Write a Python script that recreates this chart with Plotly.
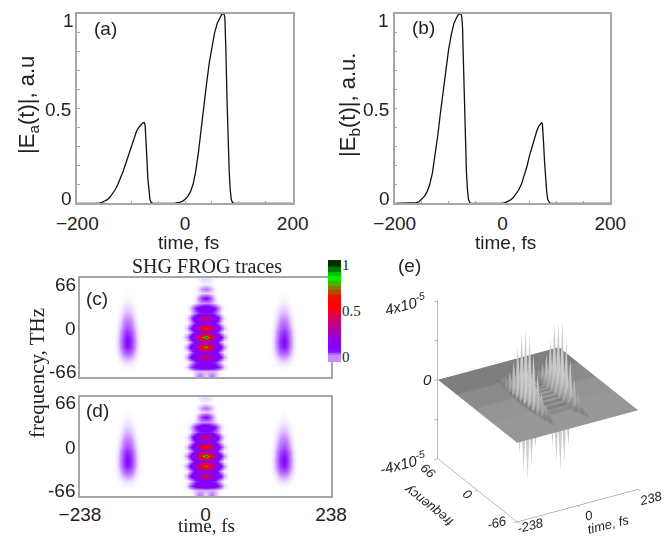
import plotly.graph_objects as go

W, H = 668, 536

# ---------- panels (a), (b): pulse envelopes ----------
t_a = [-200,-165,-160,-155,-150,-145,-140,-135,-130,-125,-120,-115,-110,-105,-100,-95,-90,-86,-82,-79,-77,-75.5,-74,-73,-71,-69,-67,-65,-63,-60,
       -20,-15,-10,-5,0,5,10,15,20,25,30,35,40,45,50,55,60,64,68,71,72.5,74,75,76,78,80,82,84,86,88,90,200]
e_a = [0,0,0.001,0.004,0.01,0.018,0.03,0.047,0.07,0.098,0.13,0.168,0.21,0.255,0.30,0.345,0.38,0.40,0.415,0.422,0.425,0.425,0.41,0.37,0.25,0.13,0.06,0.02,0.005,0,
       0,0.002,0.005,0.01,0.02,0.035,0.06,0.10,0.17,0.27,0.40,0.52,0.63,0.74,0.83,0.90,0.95,0.975,0.995,1,1,0.98,0.92,0.80,0.55,0.33,0.17,0.07,0.02,0.005,0,0]
t_b = [-200,-170,-165,-160,-155,-150,-145,-140,-135,-130,-125,-120,-115,-110,-105,-100,-95,-90,-86,-82,-79,-77,-75.5,-74,-73,-71,-69,-67,-65,-63,-60,
       0,5,10,15,20,25,30,35,40,45,50,55,60,64,68,71,72.5,74,75,76,78,80,82,84,86,88,200]
e_b = [0,0,0.001,0.003,0.008,0.02,0.036,0.06,0.10,0.16,0.25,0.36,0.48,0.60,0.71,0.81,0.89,0.95,0.975,0.995,1,1,0.98,0.92,0.80,0.55,0.33,0.17,0.07,0.02,0,
       0,0.004,0.01,0.018,0.03,0.047,0.07,0.10,0.14,0.19,0.25,0.30,0.35,0.385,0.41,0.422,0.425,0.42,0.39,0.33,0.22,0.12,0.06,0.02,0.005,0,0]

# ---------- panels (c), (d): SHG FROG traces, read by eye ----------
frog_freq = [71.5,65,58.5,52,45.5,39,32.5,26,19.5,13,6.5,0,-6.5,-13,-19.5,-26,-32.5,-39,-45.5,-52,-58.5,-65,-71.5]
centre_offsets = [0,6,12,18,24,30,36,42,48]
centre_c = [
 [0,0,0,0,0,0,0,0,0],
 [.012,.01,.005,0,0,0,0,0,0],
 [.004,.003,.001,0,0,0,0,0,0],
 [.04,.03,.015,.003,0,0,0,0,0],
 [.012,.01,.006,.002,0,0,0,0,0],
 [.09,.07,.035,.01,.001,0,0,0,0],
 [.03,.03,.022,.01,.003,0,0,0,0],
 [.13,.12,.10,.08,.04,.012,.002,0,0],
 [.08,.08,.07,.05,.025,.006,0,0,0],
 [.38,.32,.20,.12,.09,.035,.008,0,0],
 [.12,.115,.10,.08,.05,.015,.002,0,0],
 [.72,.58,.36,.19,.11,.065,.018,.002,0],
 [.14,.13,.12,.09,.06,.02,.004,0,0],
 [1,.72,.48,.28,.14,.09,.03,.005,0],
 [.16,.15,.13,.10,.07,.025,.004,0,0],
 [.85,.62,.43,.24,.13,.09,.03,.004,0],
 [.14,.13,.11,.09,.07,.025,.004,0,0],
 [.42,.35,.24,.14,.11,.08,.025,.003,0],
 [.09,.09,.08,.07,.04,.012,.002,0,0],
 [.13,.12,.11,.10,.08,.05,.012,.002,0],
 [.02,.02,.02,.018,.008,.002,0,0,0],
 [.01,.03,.04,.02,.005,0,0,0,0],
 [0,0,0,0,0,0,0,0,0],
]
centre_d = [
 [0,0,0,0,0,0,0,0,0],
 [.012,.01,.005,0,0,0,0,0,0],
 [.004,.003,.001,0,0,0,0,0,0],
 [.04,.03,.015,.003,0,0,0,0,0],
 [.012,.01,.006,.002,0,0,0,0,0],
 [.09,.07,.035,.01,.001,0,0,0,0],
 [.03,.03,.022,.01,.003,0,0,0,0],
 [.14,.13,.10,.08,.04,.012,.002,0,0],
 [.08,.08,.07,.05,.025,.006,0,0,0],
 [.40,.33,.20,.12,.09,.035,.008,0,0],
 [.12,.115,.10,.08,.05,.015,.002,0,0],
 [.68,.56,.36,.19,.11,.065,.018,.002,0],
 [.14,.13,.12,.09,.06,.02,.004,0,0],
 [1,.73,.50,.28,.14,.09,.03,.005,0],
 [.16,.15,.13,.10,.07,.025,.004,0,0],
 [.80,.60,.42,.24,.13,.09,.03,.004,0],
 [.14,.13,.11,.09,.07,.025,.004,0,0],
 [.45,.36,.25,.14,.11,.08,.025,.003,0],
 [.09,.09,.08,.07,.04,.012,.002,0,0],
 [.13,.12,.11,.10,.08,.05,.012,.002,0],
 [.02,.02,.02,.018,.008,.002,0,0,0],
 [.01,.03,.04,.02,.005,0,0,0,0],
 [0,0,0,0,0,0,0,0,0],
]
side_centre = 148
side_offsets = [0,6,12,18,24,32]
side_lobe = [
 [0,0,0,0,0,0],[0,0,0,0,0,0],[0,0,0,0,0,0],[0,0,0,0,0,0],[.001,0,0,0,0,0],
 [.003,.002,0,0,0,0],[.006,.004,.001,0,0,0],[.012,.009,.004,.001,0,0],[.02,.015,.007,.002,0,0],
 [.03,.024,.011,.003,0,0],[.042,.034,.016,.005,0,0],[.055,.043,.022,.007,.001,0],[.068,.055,.03,.009,.002,0],
 [.08,.064,.034,.012,.002,0],[.085,.068,.038,.013,.002,0],[.078,.063,.034,.012,.002,0],[.055,.045,.024,.008,.002,0],
 [.028,.023,.012,.004,0,0],[.01,.008,.004,.001,0,0],[.002,.002,0,0,0,0],[0,0,0,0,0,0],[0,0,0,0,0,0],[0,0,0,0,0,0],
]
frog_scale = [[0,"#ffffff"],[.008,"#efe2ff"],[.03,"#c88cff"],[.085,"#8000ff"],[.2,"#9600d8"],[.3,"#b000a0"],
              [.42,"#d80058"],[.55,"#ff0000"],[.65,"#f01000"],[.75,"#808000"],[.85,"#00f000"],[.9,"#00c000"],[1,"#003000"]]
cbar_levels = [.03,.03,.05,.08,.1,.15,.2,.25,.3,.35,.4,.45,.5,.55,.6,.65,.7,.75,.8,.85,.9,.95,1,1]
cbar_pos = [-.06,0,.03,.06,.1,.15,.2,.25,.3,.35,.4,.45,.5,.55,.6,.65,.7,.75,.8,.85,.9,.95,1,1.05]

# ---------- panel (e): difference surface, read by eye (units of 1e-5) ----------
diff_freq = [-66+3.3*i for i in range(41)]
ridge_times = [-238,-100,-86,-77,-71,-65,-56,-42,42,56,65,71,77,86,100,238]
L_core = [0,0,.05,-.05,.15,-.1,.35,-.2,.7,-.5,1.2,-1,1.9,-1.9,2.8,-2.9,3.6,-3.9,3.8,-3.6,3.3,-2.9,2.5,-2,1.6,-1.1,.9,-.6,.5,-.3,.3,-.15,.15,-.08,.08,-.03,.03,0,0,0,0]
L_shoulder = [0,0,.02,-.02,.06,-.04,.14,-.08,.28,-.2,.5,-.4,.8,-.7,1.1,-1.1,1.4,-1.5,1.5,-1.4,1.3,-1.1,1,-.8,.65,-.4,.35,-.25,.2,-.1,.1,-.06,.06,-.03,.03,-.01,.01,0,0,0,0]
L_skirt = [0,0,.01,-.01,.03,-.02,.06,-.03,.1,-.06,.16,-.08,.22,-.14,.28,-.17,.3,-.2,.3,-.2,.28,-.17,.22,-.11,.16,-.08,.11,-.06,.08,-.03,.06,-.02,.03,-.01,.02,-.01,.01,0,0,0,0]
L_fringe = [0,0,0,0,.01,0,.03,-.01,.05,-.02,.08,-.03,.1,-.04,.12,-.05,.13,-.05,.13,-.05,.12,-.05,.1,-.04,.08,-.03,.06,-.02,.05,-.01,.03,-.01,.02,0,.01,0,0,0,0,0,0]
R_core = [0,0,.05,-.06,.2,-.1,.4,-.25,.8,-.6,1.4,-1.1,2.2,-2.2,3,-3.2,3.9,-3.9,3.7,-3.6,3.4,-3,2.4,-2,1.5,-1,.9,-.6,.45,-.3,.25,-.15,.15,-.08,.07,-.03,.03,0,0,0,0]
R_shoulder = [0,0,.02,-.02,.07,-.04,.16,-.1,.32,-.25,.58,-.42,.85,-.78,1.15,-1.15,1.45,-1.45,1.45,-1.4,1.3,-1.1,.95,-.72,.58,-.4,.35,-.22,.18,-.11,.1,-.06,.06,-.03,.03,-.01,.01,0,0,0,0]
R_skirt = [0,0,.01,-.01,.03,-.02,.06,-.03,.11,-.06,.16,-.09,.23,-.14,.28,-.17,.3,-.2,.3,-.19,.28,-.16,.22,-.11,.16,-.08,.11,-.06,.08,-.03,.05,-.02,.03,-.01,.02,-.01,.01,0,0,0,0]
R_fringe = [0,0,0,0,.01,0,.03,-.01,.05,-.02,.08,-.03,.1,-.04,.12,-.05,.13,-.05,.13,-.05,.11,-.04,.1,-.04,.07,-.03,.06,-.02,.04,-.01,.03,-.01,.02,0,.01,0,0,0,0,0,0]
zero_col = [0]*41
plane_tone = [.055]*13 + [.05]*9 + [.04]*9 + [.025]*10


def dx(a, b): return [a/W, b/W]
def dy(top, bottom): return [1-bottom/H, 1-top/H]
def full_grid(centre):
    rows = []
    for c, s in zip(centre, side_lobe):
        right = c + [0] + s[::-1] + s[1:] + [0]
        rows.append(right[:0:-1] + right)
    return rows

half_t = centre_offsets + [100] + [side_centre-o for o in side_offsets[::-1]] + [side_centre+o for o in side_offsets[1:]] + [238]
frog_time = [-v for v in half_t[:0:-1]] + half_t

GREY = "#a6a6a6"
fig = go.Figure()

def frame(**kw):
    d = dict(showline=True, linecolor=GREY, linewidth=1.5, mirror=True, showgrid=False, zeroline=False)
    d.update(kw)
    return d

sans = "Liberation Sans"; serif = "Liberation Serif"
fig.add_trace(go.Scatter(x=t_a, y=e_a, mode="lines", line=dict(color="#111", width=1.3), xaxis="x", yaxis="y", showlegend=False))
fig.add_trace(go.Scatter(x=t_b, y=e_b, mode="lines", line=dict(color="#111", width=1.3), xaxis="x2", yaxis="y2", showlegend=False))
for z, xa, ya in ((centre_c, "x3", "y3"), (centre_d, "x4", "y4")):
    fig.add_trace(go.Heatmap(x=frog_time, y=frog_freq, z=full_grid(z), zmin=0, zmax=1, zsmooth="best",
                             colorscale=frog_scale, showscale=False, xaxis=xa, yaxis=ya))
fig.add_trace(go.Heatmap(x=[0], y=cbar_pos, z=[[v] for v in cbar_levels], zmin=0, zmax=1, zsmooth=False,
                         colorscale=frog_scale, showscale=False, xaxis="x5", yaxis="y5"))

columns = [zero_col, zero_col, L_fringe, L_skirt, L_shoulder, L_core, L_shoulder, L_skirt, R_skirt, R_shoulder, R_core,
           R_shoulder, R_skirt, R_fringe, zero_col, zero_col]
z3 = [[columns[j][i]*1e-5 for j in range(len(columns))] for i in range(41)]
col3 = [[max(abs(columns[j][i])/4, plane_tone[i]) for j in range(len(columns))] for i in range(41)]
fig.add_trace(go.Surface(x=ridge_times, y=diff_freq, z=z3, surfacecolor=col3, cmin=0, cmax=1, showscale=False,
    colorscale=[[0,"#6a6a6a"],[.05,"#969696"],[.15,"#c0c0c0"],[.4,"#e4e4e4"],[1,"#f4f4f4"]],
    lighting=dict(ambient=.85, diffuse=.4, specular=0, roughness=1), hoverinfo="skip", scene="scene"))

axis3 = dict(showgrid=False, zeroline=False, showbackground=False, showline=True, linecolor="#777", linewidth=1,
             showspikes=False, title="", showticklabels=False, ticks="outside", ticklen=4, tickcolor="#777")
tick_style = dict(ticks="outside", ticklen=2, tickcolor="rgba(0,0,0,0)", tickfont=dict(family=sans, size=19, color="#222"))
minor_x = dict(tickvals=[-150,-100,-50,0,50,100,150], ticks="inside", ticklen=3, tickcolor=GREY, tickwidth=1)
minor_y = dict(tickvals=[.1,.2,.3,.4,.5,.6,.7,.8,.9], ticks="inside", ticklen=3, tickcolor=GREY, tickwidth=1)
fig.update_layout(
    width=W, height=H, margin=dict(l=0, r=0, t=0, b=0, autoexpand=False), paper_bgcolor="white", plot_bgcolor="white",
    font=dict(family=sans, color="#222"), showlegend=False,
    xaxis=frame(domain=dx(77.3,292.7), range=[-200,200], tickvals=[-200,0,200], anchor="y", minor=minor_x, **tick_style),
    yaxis=frame(domain=dy(13.7,203.3), range=[0,1], tickvals=[0,.5,1], showticklabels=False, anchor="x", minor=minor_y),
    xaxis2=frame(domain=dx(394.7,610.3), range=[-200,200], tickvals=[-200,0,200], anchor="y2", minor=minor_x, **tick_style),
    yaxis2=frame(domain=dy(13.7,203.3), range=[0,1], tickvals=[0,.5,1], showticklabels=False, anchor="x2", minor=minor_y),
    xaxis3=frame(domain=dx(80,331), range=[-238,238], showticklabels=False, ticks="", anchor="y3"),
    yaxis3=frame(domain=dy(278,377), range=[-66,66], showticklabels=False, ticks="", anchor="x3"),
    xaxis4=frame(domain=dx(80,331), range=[-238,238], tickvals=[-238,0,238], anchor="y4", **dict(tick_style, ticklen=0, ticks="")),
    yaxis4=frame(domain=dy(397,496), range=[-66,66], showticklabels=False, ticks="", anchor="x4"),
    xaxis5=dict(domain=dx(328,341), range=[-.5,.5], showticklabels=False, ticks="", showgrid=False, zeroline=False, showline=False, anchor="y5"),
    yaxis5=dict(domain=dy(260,362), range=[-.06,1.05], tickvals=[0,.5,1], ticktext=["0","0.5","1"], side="right", anchor="x5",
                ticks="", showgrid=False, zeroline=False, showline=False, tickfont=dict(family=serif, size=15, color="#222")),
    scene=dict(domain=dict(x=dx(408,668), y=dy(261.5,527.5)),
               aspectmode="manual", aspectratio=dict(x=1.053, y=1.187, z=1.34),
               camera=dict(eye=dict(x=-.567, y=-.975, z=.589), center=dict(x=0,y=0,z=0), up=dict(x=0,y=0,z=1),
                           projection=dict(type="orthographic")),
               xaxis=dict(axis3, range=[-238,238], tickvals=[-238,0,238]),
               yaxis=dict(axis3, range=[-66,66], tickvals=[-66,0,66]),
               zaxis=dict(axis3, range=[-4e-5,4e-5], tickvals=[-4e-5,-2e-5,0,2e-5,4e-5])),
)

def note(px, py, text, size=18, family=sans, angle=0):
    fig.add_annotation(x=px/W, y=1-py/H, xref="paper", yref="paper", text=text, showarrow=False, textangle=angle,
                       xanchor="center", yanchor="middle", font=dict(family=family, size=size, color="#222"))

note(68, 20, "1", 19); note(58, 109, "0.5", 19); note(66, 198, "0", 19)
note(383, 20, "1", 19); note(376, 109, "0.5", 19); note(384, 198, "0", 19)
note(105, 28, "(a)", 19); note(423, 27, "(b)", 19)
note(188, 242, "time, fs", 19); note(505, 242, "time, fs", 19)
note(28, 105, "|E<sub>a</sub>(t)|, a.u", 22, angle=-90)
note(349, 105, "|E<sub>b</sub>(t)|, a.u.", 22, angle=-90)
note(207, 266, "SHG FROG traces", 20, serif)
note(97, 298, "(c)", 19); note(97, 410, "(d)", 19)
note(65, 284, "66", 19); note(70, 328, "0", 19); note(63, 371, "-66", 19)
note(65, 402, "66", 19); note(70, 447, "0", 19); note(61, 490, "-66", 19)
note(37, 373, "frequency, THz", 21, serif, -90)
note(207, 525, "time, fs", 19, serif)
note(409, 266, "(e)", 19)
note(405, 303, "<i>4x10<sup>-5</sup></i>", 15, angle=-14)
note(427, 379, "<i>0</i>", 15)
note(402, 462, "<i>-4x10<sup>-5</sup></i>", 15, angle=-14)
note(428, 470, "<i>66</i>", 13, angle=40)
note(468, 494, "<i>0</i>", 13, angle=40)
note(497, 522, "<i>-66</i>", 13, angle=-14)
note(428, 506, "<i>frequency</i>", 13, angle=218)
note(530, 525, "<i>-238</i>", 13, angle=-14)
note(589, 515, "<i>0</i>", 13, angle=-14)
note(608, 524, "<i>time, fs</i>", 13, angle=-14)
note(650, 498, "<i>238</i>", 13, angle=-14)

fig.write_html("out.html", config=dict(displayModeBar=False), post_script="document.body.style.margin='0';")
